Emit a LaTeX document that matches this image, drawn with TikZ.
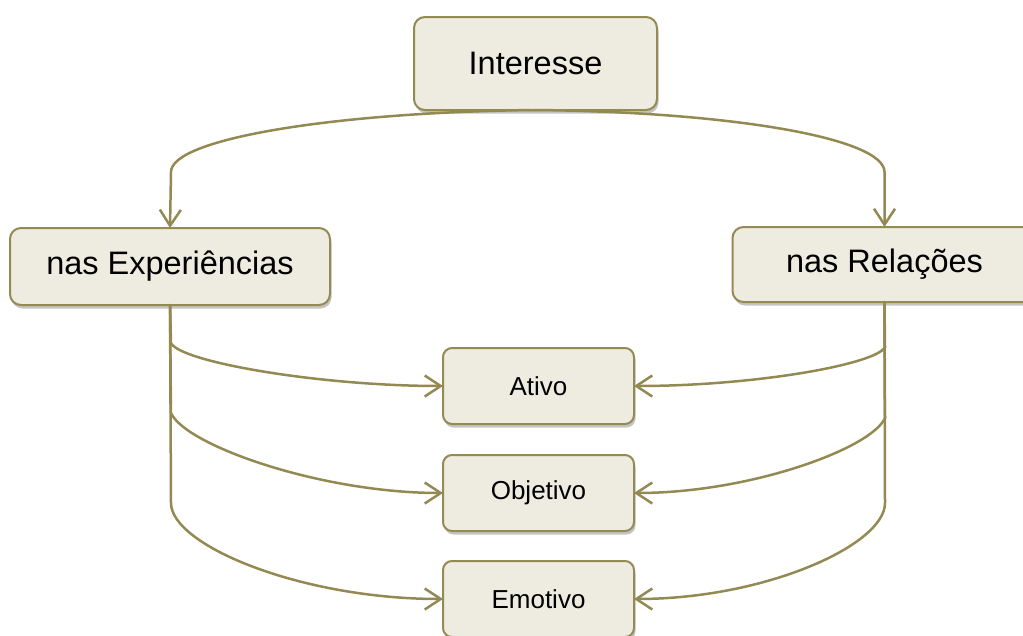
\documentclass[tikz,border=0pt]{standalone}
\usepackage{fontspec}
\setmainfont{Liberation Sans}
\usetikzlibrary{arrows.meta,shadows}
\definecolor{boxfill}{HTML}{EEECE1}
\definecolor{boxline}{HTML}{948A54}
\definecolor{connline}{HTML}{938953}
\definecolor{shadowgray}{HTML}{C4C4C4}
\tikzset{
  basebox/.style={draw=boxline, fill=boxfill, line width=2pt, inner sep=0pt, outer sep=0pt,
    drop shadow={shadow xshift=1.5pt, shadow yshift=-3.5pt, fill=shadowgray, opacity=1}},
  bigbox/.style={basebox, rounded corners=11pt, font=\fontsize{32.5}{38}\selectfont},
  smallbox/.style={basebox, rounded corners=9pt, minimum width=191pt, minimum height=76pt,
    font=\fontsize{26}{31}\selectfont},
  conn/.style={draw=connline, line width=2.5pt, line cap=round,
    -{Straight Barb[length=16pt, width=21pt, line width=2.5pt]}}
}
\begin{document}
\begin{tikzpicture}[x=1pt, y=-1pt]
\useasboundingbox (0,0) rectangle (1023,635);
\clip (0,0) rectangle (1023,635);
% nodes
\node[bigbox, minimum width=243pt, minimum height=93pt] (int) at (535.5,63.5) {Interesse};
\node[bigbox, minimum width=320pt, minimum height=77pt] (exp) at (170,266.5) {nas Experiências};
\node[bigbox, minimum width=304pt, minimum height=75pt] (rel) at (884.5,264.5) {nas Relações};
\node[smallbox] (ati) at (538.5,386) {Ativo};
\node[smallbox] (obj) at (538.5,493) {Objetivo};
\node[smallbox] (emo) at (538.5,599) {Emotivo};
% top connectors
\draw[conn] (int.south) .. controls (340,112) and (171,138) .. (171,172) -- (exp.north);
\draw[conn] (int.south) .. controls (730,112) and (884.5,138) .. (884.5,172) -- (rel.north);
% left connectors
\draw[conn] (exp.south) -- (171,343) .. controls (180,362) and (320,386) .. (ati.west);
\draw[conn] (exp.south) -- (171,413) .. controls (185,445) and (320,493) .. (obj.west);
\draw[conn] (exp.south) -- (171,503) .. controls (171,545) and (300,599) .. (emo.west);
% right connectors
\draw[conn] (rel.south) -- (885,347) .. controls (877,364) and (756,386) .. (ati.east);
\draw[conn] (rel.south) -- (885,418) .. controls (872,448) and (751,493) .. (obj.east);
\draw[conn] (rel.south) -- (885,503) .. controls (885,545) and (765,599) .. (emo.east);
\end{tikzpicture}
\end{document}
